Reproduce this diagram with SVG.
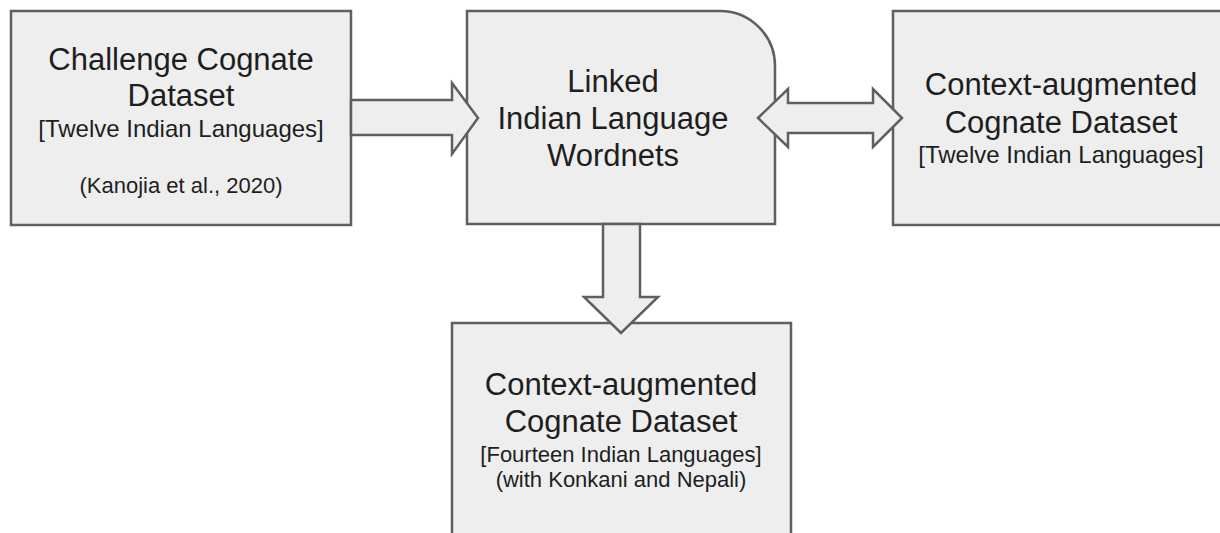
<svg xmlns="http://www.w3.org/2000/svg" width="1220" height="533" viewBox="0 0 1220 533">
<style>
.box{fill:#eeeeee;stroke:#5f5f5f;stroke-width:2.5}
.arr{fill:#eeeeee;stroke:#5f5f5f;stroke-width:2.5;stroke-linejoin:miter}
text{font-family:"Liberation Sans",Arial,sans-serif;fill:#1e1e1e;text-anchor:middle}
.t{font-size:31px}
.s{font-size:24px}
.c{font-size:22px}
</style>
<rect width="1220" height="533" fill="#ffffff"/>
<g id="challenge">
<rect class="box" x="11" y="11" width="340" height="214"/>
<text class="t" x="181" y="70">Challenge Cognate</text>
<text class="t" x="181" y="106">Dataset</text>
<text class="s" x="181" y="137">[Twelve Indian Languages]</text>
<text class="c" x="181" y="193">(Kanojia et al., 2020)</text>
</g>
<g id="wordnets">
<path class="box" d="M467,11 H720 A55,55 0 0 1 775,66 V224 H467 Z"/>
<text class="t" x="613" y="92">Linked</text>
<text class="t" x="613" y="129">Indian Language</text>
<text class="t" x="613" y="166">Wordnets</text>
</g>
<g id="context12">
<rect class="box" x="893" y="11" width="340" height="214"/>
<text class="t" x="1061" y="95">Context-augmented</text>
<text class="t" x="1061" y="133">Cognate Dataset</text>
<text class="s" x="1061" y="163">[Twelve Indian Languages]</text>
</g>
<g id="context14">
<rect class="box" x="452" y="323" width="339" height="230"/>
<text class="t" x="621" y="395">Context-augmented</text>
<text class="t" x="621" y="432">Cognate Dataset</text>
<text class="c" x="621" y="462">[Fourteen Indian Languages]</text>
<text class="c" x="621" y="487">(with Konkani and Nepali)</text>
</g>
<g id="connectors">
<polygon class="arr" points="351,100 452,100 452,83 478,118 452,154 452,135 351,135"/>
<polygon class="arr" points="758,118 788,89 788,103 873,103 873,89 902,118 873,147 873,133 788,133 788,147"/>
<polygon class="arr" points="603,224 640,224 640,297 658,297 621,333 584,297 603,297"/>
</g>
</svg>
